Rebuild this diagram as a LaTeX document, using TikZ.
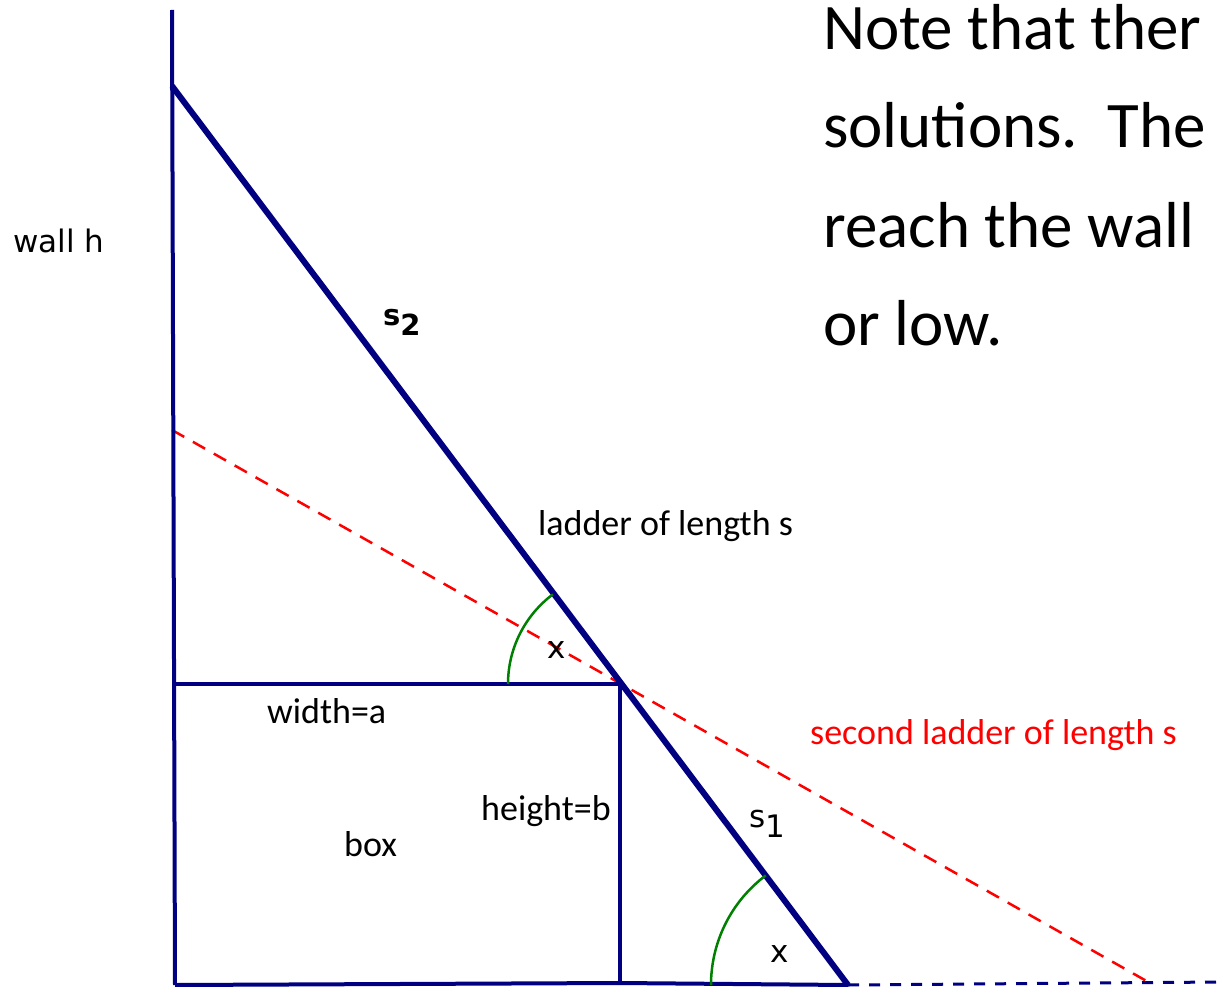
\documentclass[tikz,border=0pt]{standalone}
\usepackage{fontspec}
\setmainfont{Carlito}
\newfontfamily\symfont{DejaVu Sans}
\usetikzlibrary{positioning}
\definecolor{LadderBlue}{RGB}{0,0,128}
\definecolor{SecondRed}{RGB}{255,0,0}
\definecolor{AngleGreen}{RGB}{0,128,0}
\tikzset{
  ladderline/.style={draw=LadderBlue,line width=6pt},
  boxline/.style={draw=LadderBlue,line width=4pt},
  redladder/.style={draw=SecondRed,line width=2.5pt,dash pattern=on 14pt off 10pt},
  groundline/.style={draw=LadderBlue,line width=3pt,dash pattern=on 11pt off 10pt},
  anglearc/.style={draw=AngleGreen,line width=2.5pt},
  labeltext/.style={inner sep=0pt,anchor=base west,font=\fontsize{36}{40}\selectfont},
  symtext/.style={inner sep=0pt,anchor=base west,font=\symfont\fontsize{31}{35}\selectfont},
  notetext/.style={inner sep=0pt,anchor=base west,font=\fontsize{65}{72}\selectfont},
}
\begin{document}
\begin{tikzpicture}[x=1pt,y=-1pt]
\useasboundingbox (0,0) rectangle (1220,987);
% wall, ladder and box corners
\coordinate (walltop) at (172,10);
\coordinate (wallfoot) at (175,985);
\coordinate (laddertop) at (172,86);
\coordinate (corner) at (620,684);
\coordinate (ladderfoot) at (848,985);
\coordinate (boxleft) at (175,684);
\coordinate (boxfoot) at (620,983);
\coordinate (redtop) at (172,430);
\coordinate (redfoot) at (1150,983);
\coordinate (groundend) at (1220,982);

\draw[redladder] (redtop) -- (redfoot);
\draw[groundline] (ladderfoot) -- (groundend);
\draw[boxline] (walltop) -- (wallfoot);
\draw[boxline] (boxleft) -- (corner) -- (boxfoot);
\draw[boxline] (wallfoot) -- (boxfoot) -- (ladderfoot);
\draw[ladderline] (laddertop) -- (ladderfoot);

% angle marks
\draw[anglearc] ([xshift=-112pt]corner) arc[start angle=180,end angle=233.2,radius=112];
\draw[anglearc] ([xshift=-137pt]ladderfoot) arc[start angle=180,end angle=233.1,radius=137];

% labels
\node[symtext] (wallh) at (13,252) {wall h};
\node[symtext,font=\symfont\bfseries\fontsize{29}{34}\selectfont] (stwo) at (383,325) {s\raisebox{-10pt}{2}};
\node[symtext] (sone) at (749,827) {s\raisebox{-10pt}{1}};
\node[symtext] (xtop) at (547,658) {x};
\node[symtext] (xfoot) at (770,962) {x};
\node[labeltext] (ladder) at (538,535) {ladder of length s};
\node[labeltext] (width) at (267,723) {width=a};
\node[labeltext] (height) at (481,820) {height=b};
\node[labeltext] (box) at (344,856) {box};
\node[labeltext,text=SecondRed] (second) at (810,744) {second ladder of length s};
% note text, cut at the right edge
\node[notetext] (note1) at (823,50) {Note that ther};
\node[notetext] (note2) at (823,148) {solutions.\ \ The};
\node[notetext] (note3) at (823,247) {reach the wall};
\node[notetext] (note4) at (823,345) {or low.};
\end{tikzpicture}
\end{document}
